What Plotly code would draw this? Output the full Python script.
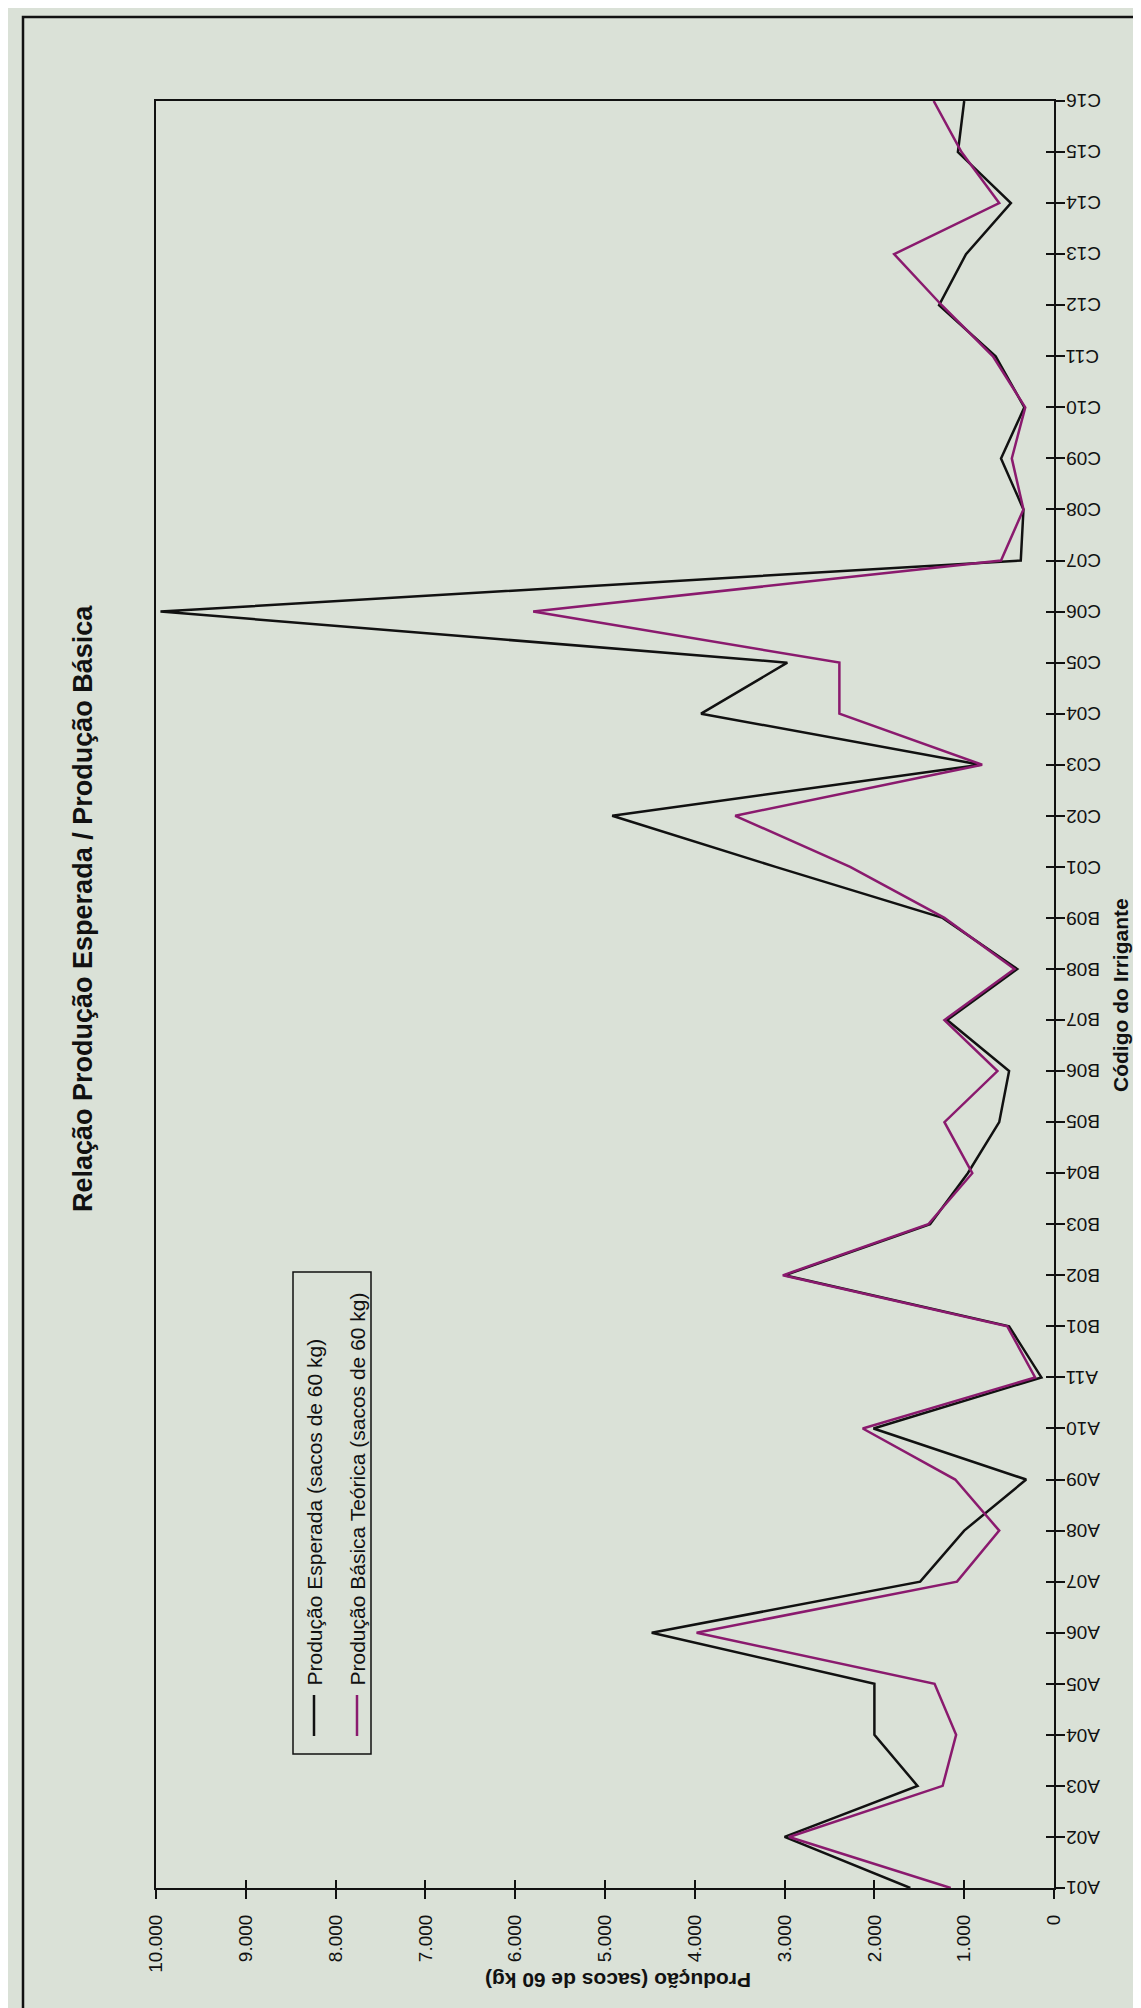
import plotly.graph_objects as go

# ---------------- data ----------------
categories = ["A01", "A02", "A03", "A04", "A05", "A06", "A07", "A08", "A09", "A10", "A11",
              "B01", "B02", "B03", "B04", "B05", "B06", "B07", "B08", "B09",
              "C01", "C02", "C03", "C04", "C05", "C06", "C07", "C08", "C09", "C10",
              "C11", "C12", "C13", "C14", "C15", "C16"]

producao_esperada = [1600, 3000, 1520, 2000, 2000, 4480, 1490, 1000, 310, 2010, 140,
                     500, 3000, 1380, 960, 610, 500, 1190, 410, 1240,
                     3100, 4920, 820, 3930, 2970, 9950, 370, 340, 590, 330,
                     650, 1280, 980, 480, 1070, 1000]

producao_basica = [1150, 2950, 1240, 1090, 1330, 3980, 1080, 610, 1100, 2130, 210,
                   520, 3020, 1400, 910, 1220, 630, 1220, 440, 1220,
                   2270, 3550, 800, 2390, 2390, 5800, 590, 340, 470, 320,
                   680, 1250, 1780, 610, 1030, 1340]

value_ticks = [0, 1000, 2000, 3000, 4000, 5000, 6000, 7000, 8000, 9000, 10000]
value_tick_labels = ["0", "1.000", "2.000", "3.000", "4.000", "5.000",
                     "6.000", "7.000", "8.000", "9.000", "10.000"]

series_names = ["Produção Esperada (sacos de 60 kg)",
                "Produção Básica Teórica (sacos de 60 kg)"]
title_text = "Relação Produção Esperada / Produção Básica"
value_axis_title = "Produção (sacos de 60 kg)"
category_axis_title = "Código do Irrigante"

# ---------------- layout geometry ----------------
W, H = 1141, 2008
L, R, T, B = 148, W - 1046, 93, H - 1880
BG = "#dae1d7"
INK = "#111111"
PURPLE = "#8a1a6e"
FONT = "Liberation Sans, Arial, sans-serif"


def px_x(px):
    return (px - L) / (W - L - R)


def px_y(py):
    return (H - B - py) / (H - T - B)


fig = go.Figure()
fig.add_trace(go.Scatter(x=producao_esperada, y=categories, mode="lines",
                         name=series_names[0], line=dict(color=INK, width=2.5)))
fig.add_trace(go.Scatter(x=producao_basica, y=categories, mode="lines",
                         name=series_names[1], line=dict(color=PURPLE, width=2.5)))
# empty trace to activate overlay axes that draw the inner half of the tick crosses
fig.add_trace(go.Scatter(x=[], y=[], xaxis="x2", yaxis="y2", showlegend=False,
                         hoverinfo="skip"))

fig.update_layout(
    width=W, height=H, autosize=False,
    margin=dict(l=L, r=R, t=T, b=B),
    paper_bgcolor=BG, plot_bgcolor=BG,
    showlegend=False,
    font=dict(family=FONT, color=INK),
)

fig.update_layout(
    xaxis=dict(
        range=[10000, 0], tickvals=value_ticks, ticktext=value_tick_labels,
        tickangle=-90, ticks="outside", ticklen=9, tickwidth=1.5, tickcolor=INK,
        showline=True, linecolor=INK, linewidth=2, mirror=True,
        showgrid=False, zeroline=False, ticklabelstandoff=8,
        tickfont=dict(family=FONT, size=19, color=INK),
    ),
    yaxis=dict(
        type="category", categoryorder="array", categoryarray=categories,
        range=[0, len(categories) - 1], side="right",
        ticks="outside", ticklen=9, tickwidth=1.5, tickcolor=INK,
        showticklabels=False,
        showline=True, linecolor=INK, linewidth=2, mirror=True,
        showgrid=False, zeroline=False,
    ),
    xaxis2=dict(
        overlaying="x", anchor="y2", range=[10000, 0], tickvals=value_ticks,
        ticks="inside", ticklen=8, tickwidth=1.5, tickcolor=INK,
        showticklabels=False, showline=False, showgrid=False, zeroline=False,
        side="bottom",
    ),
    yaxis2=dict(
        overlaying="y", anchor="x2", range=[0, len(categories) - 1],
        tickvals=list(range(len(categories))),
        ticks="inside", ticklen=8, tickwidth=1.5, tickcolor=INK,
        showticklabels=False, showline=False, showgrid=False, zeroline=False,
        side="right",
    ),
)

annotations = [
    dict(text="<b>" + title_text + "</b>", x=px_x(75), y=px_y(901),
         xref="paper", yref="paper", showarrow=False, textangle=-90,
         xanchor="center", yanchor="middle",
         font=dict(family=FONT, size=27, color=INK)),
    dict(text="<b>" + category_axis_title + "</b>", x=px_x(1112), y=px_y(987),
         xref="paper", yref="paper", showarrow=False, textangle=-90,
         xanchor="center", yanchor="middle",
         font=dict(family=FONT, size=21, color=INK)),
    dict(text="<b>" + value_axis_title + "</b>", x=px_x(610), y=px_y(1972),
         xref="paper", yref="paper", showarrow=False, textangle=180,
         xanchor="center", yanchor="middle",
         font=dict(family=FONT, size=21, color=INK)),
    dict(text=series_names[0], x=px_x(306), y=px_y(1680),
         xref="paper", yref="paper", showarrow=False, textangle=-90,
         xanchor="center", yanchor="bottom",
         font=dict(family=FONT, size=21, color=INK)),
    dict(text=series_names[1], x=px_x(349), y=px_y(1680),
         xref="paper", yref="paper", showarrow=False, textangle=-90,
         xanchor="center", yanchor="bottom",
         font=dict(family=FONT, size=21, color=INK)),
]

# category tick labels (upside down, as in the rotated scan)
for cat in categories:
    annotations.append(dict(
        text=cat, x=px_x(1056), y=cat, xref="paper", yref="y",
        showarrow=False, textangle=180, xanchor="left", yanchor="middle",
        font=dict(family=FONT, size=19, color=INK)))

shapes = [
    # outer chart frame
    dict(type="rect", xref="paper", yref="paper",
         x0=px_x(15), x1=px_x(1160), y0=px_y(9), y1=px_y(2005),
         line=dict(color=INK, width=2.5), layer="below"),
    # legend box
    dict(type="rect", xref="paper", yref="paper",
         x0=px_x(285), x1=px_x(363), y0=px_y(1264), y1=px_y(1746),
         line=dict(color=INK, width=1.5), fillcolor=BG),
    # legend line samples
    dict(type="line", xref="paper", yref="paper",
         x0=px_x(306), x1=px_x(306), y0=px_y(1687), y1=px_y(1728),
         line=dict(color=INK, width=2.5)),
    dict(type="line", xref="paper", yref="paper",
         x0=px_x(349), x1=px_x(349), y0=px_y(1687), y1=px_y(1728),
         line=dict(color=PURPLE, width=2.5)),
]

fig.update_layout(annotations=annotations, shapes=shapes)
fig.write_html("out.html")
